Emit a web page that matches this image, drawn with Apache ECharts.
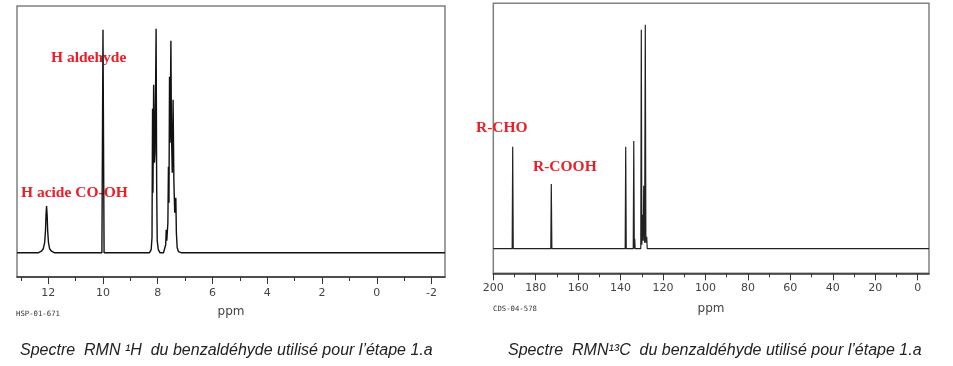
<!DOCTYPE html>
<html>
<head>
<meta charset="utf-8">
<script src="https://cdn.jsdelivr.net/npm/echarts@6/dist/echarts.min.js"></script>
<style>
html,body{margin:0;padding:0;background:#fff;}
#c{width:953px;height:366px;}
</style>
</head>
<body>
<div id="c"></div>
<script>
// ---- 1H spectrum (ppm, relative intensity) ----
const hShift = [13.14, 12.35, 12.25, 12.18, 12.13, 12.10, 12.08, 12.06, 12.04, 12.02, 11.99, 11.95, 11.88, 11.78,
  10.04, 10.00, 9.96,
  8.30, 8.24, 8.21, 8.19, 8.175, 8.15, 8.12, 8.10, 8.06, 8.04, 8.02, 7.98, 7.92, 7.85, 7.79,
  7.74, 7.71, 7.69, 7.67, 7.63, 7.61, 7.59, 7.57, 7.55, 7.52, 7.50, 7.47, 7.44, 7.41, 7.38, 7.34, 7.32, 7.29, 7.24, 7.15,
  -2.49];
const hSignal = [0, 0, 1.5, 4, 10, 22, 38, 46.7, 38, 22, 10, 4, 1.5, 0,
  0, 223, 0,
  0, 3, 15, 144, 60, 168, 90, 100, 224, 70, 12, 3, 0, -1, 0,
  2, 8, 23, 12, 30, 86, 50, 176, 110, 212, 120, 80, 153, 70, 40, 55, 20, 5, 1, 0,
  0];

// ---- 13C spectrum (ppm, relative intensity) ----
const cShift = [200, 191.1, 190.86, 190.6, 172.9, 172.67, 172.4, 137.85, 137.6, 137.35,
  134.05, 133.8, 133.55, 133.36, 133.15, 130.5, 130.25, 130.0, 129.6, 129.35, 129.1, 128.7, 128.37, 128.1, 127.7, 127.45, -5.33];
const cSignal = [0, 0, 102, 0, 0, 64.7, 0, 0, 102, 0,
  0, 107.7, 0, 10, 0, 0, 219, 4, 34, 8, 63, 6, 224, 6, 12, 0, 0];

// ---- tick labels ----
const hTickLabels = [12, 10, 8, 6, 4, 2, 0, -2];
const hMinorTicks = [13, 11, 9, 7, 5, 3, 1, -1];
const cTickLabels = [200, 180, 160, 140, 120, 100, 80, 60, 40, 20, 0];
const cMinorTicks = [190, 170, 150, 130, 110, 90, 70, 50, 30, 10];

// ---- texts ----
const hAnnotations = ['H aldehyde', 'H acide CO-OH'];
const cAnnotations = ['R-CHO', 'R-COOH'];
const codes = ['HSP-01-671', 'CDS-04-578'];
const axisTitle = 'ppm';
const captions = ['Spectre  RMN \u00B9H  du benzaldéhyde utilisé pour l\u2019étape 1.a',
                  'Spectre  RMN\u00B9\u00B3C  du benzaldéhyde utilisé pour l\u2019étape 1.a'];

const zip = (a, b) => a.map((v, i) => [v, b[i]]);

const tickFont = {color: '#444', fontFamily: 'DejaVu Sans', fontSize: 11};

function mainX(grid, min, max, labels, margin) {
  return {
    type: 'value', gridIndex: grid, inverse: true, min: min, max: max, position: 'bottom',
    axisLine: {show: true, onZero: false, lineStyle: {color: '#333', width: 1.5}},
    axisTick: {show: true, inside: false, length: 7, customValues: labels, lineStyle: {color: '#333', width: 1}},
    axisLabel: Object.assign({show: true, margin: margin, customValues: labels}, tickFont),
    splitLine: {show: false}
  };
}
function minorX(grid, min, max, ticks) {
  return {
    type: 'value', gridIndex: grid, inverse: true, min: min, max: max, position: 'bottom',
    axisLine: {show: false, onZero: false},
    axisTick: {show: true, inside: false, length: 4, customValues: ticks, lineStyle: {color: '#333', width: 1}},
    axisLabel: {show: false},
    splitLine: {show: false}
  };
}
function hiddenY(grid, min, max) {
  return {type: 'value', gridIndex: grid, min: min, max: max, show: false, splitLine: {show: false}};
}

const red = '#ee1c25';
const annFont = 'bold 15.5px "Liberation Serif", serif';
const capFont = 'italic 16px "Liberation Sans", Arial';
function txtC(x, y, s, font, color) {
  return {type: 'text', x: x, y: y, style: {text: s, font: font, fill: color, textAlign: 'center', textVerticalAlign: 'middle'}};
}

const chart = echarts.init(document.getElementById('c'), null, {renderer: 'canvas'});
chart.setOption({
  animation: false,
  backgroundColor: '#fff',
  grid: [
    {left: 17, top: 6, width: 428, height: 271, show: true, borderColor: '#808080', borderWidth: 1.5, containLabel: false},
    {left: 493.3, top: 3.3, width: 435.7, height: 270, show: true, borderColor: '#808080', borderWidth: 1.5, containLabel: false}
  ],
  xAxis: [
    mainX(0, -2.49, 13.14, hTickLabels, 11),
    minorX(0, -2.49, 13.14, hMinorTicks),
    mainX(1, -5.33, 200, cTickLabels, 9.5),
    minorX(1, -5.33, 200, cMinorTicks)
  ],
  yAxis: [hiddenY(0, -24.3, 246.7), hiddenY(1, -24.6, 245.4)],
  series: [
    {type: 'line', xAxisIndex: 0, yAxisIndex: 0, data: zip(hShift, hSignal), showSymbol: false, symbol: 'none',
     lineStyle: {color: '#111', width: 1.4}, silent: true},
    {type: 'line', xAxisIndex: 2, yAxisIndex: 1, data: zip(cShift, cSignal), showSymbol: false, symbol: 'none',
     lineStyle: {color: '#222', width: 1.2}, silent: true}
  ],
  graphic: [
    {type: 'text', x: 51, y: 58, style: {text: hAnnotations[0], font: annFont, fill: red, textVerticalAlign: 'middle'}},
    {type: 'text', x: 21, y: 193, style: {text: hAnnotations[1], font: annFont, fill: red, textVerticalAlign: 'middle'}},
    {type: 'text', x: 476, y: 128, style: {text: cAnnotations[0], font: annFont, fill: red, textVerticalAlign: 'middle'}},
    {type: 'text', x: 533, y: 167, style: {text: cAnnotations[1], font: annFont, fill: red, textVerticalAlign: 'middle'}},
    {type: 'text', x: 16, y: 314, style: {text: codes[0], font: '7.3px "DejaVu Sans Mono", monospace', fill: '#333', textVerticalAlign: 'middle'}},
    {type: 'text', x: 493, y: 309, style: {text: codes[1], font: '7.3px "DejaVu Sans Mono", monospace', fill: '#333', textVerticalAlign: 'middle'}},
    txtC(231, 312, axisTitle, '12px "DejaVu Sans"', '#444'),
    txtC(711, 308.5, axisTitle, '12px "DejaVu Sans"', '#444'),
    {type: 'text', x: 20, y: 351, style: {text: captions[0], font: capFont, fill: '#222', textVerticalAlign: 'middle'}},
    {type: 'text', x: 508, y: 351, style: {text: captions[1], font: capFont, fill: '#222', textVerticalAlign: 'middle'}}
  ]
});
</script>
</body>
</html>
